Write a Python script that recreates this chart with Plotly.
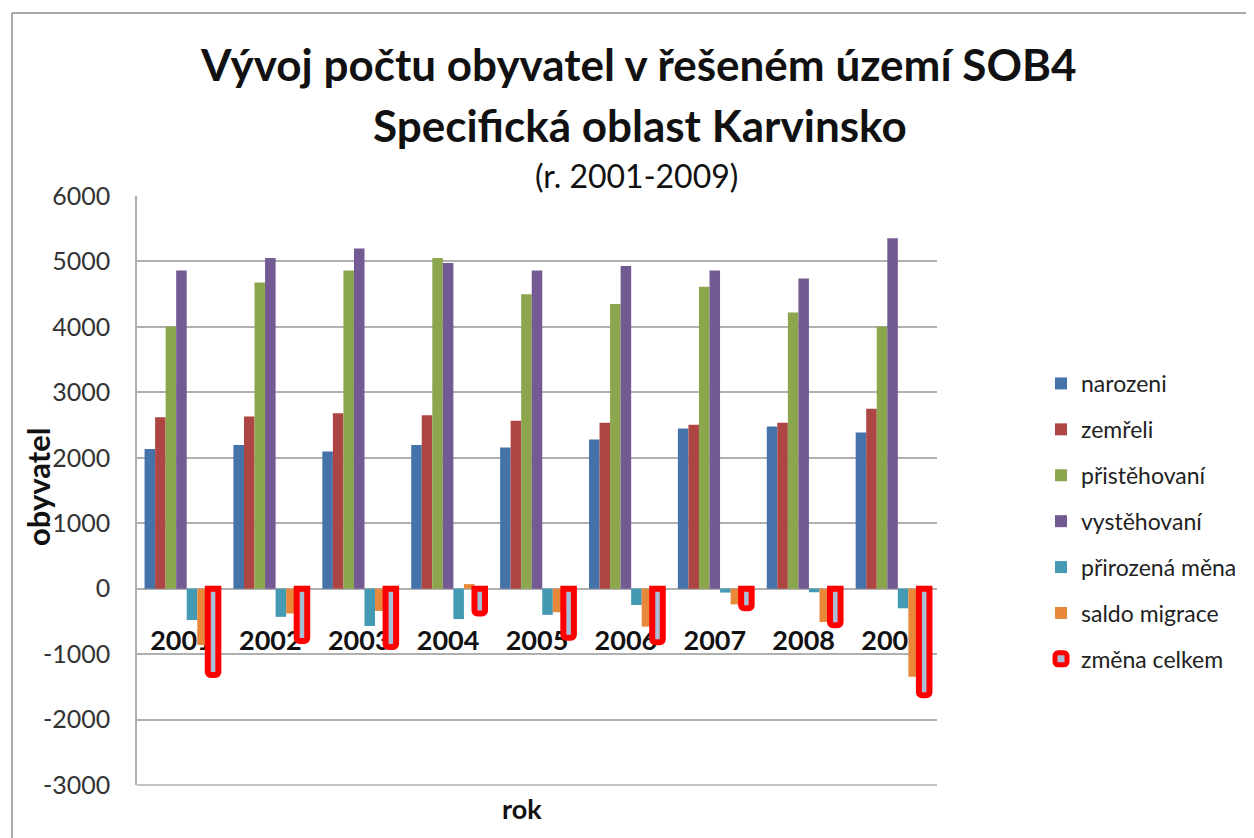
import plotly.graph_objects as go

years = ["2001", "2002", "2003", "2004", "2005", "2006", "2007", "2008", "2009"]
narozeni = [2133, 2194, 2097, 2194, 2158, 2280, 2447, 2478, 2386]
zemreli = [2621, 2631, 2682, 2651, 2565, 2534, 2504, 2534, 2748]
pristehovani = [4005, 4677, 4860, 5053, 4499, 4351, 4615, 4219, 4005]
vystehovani = [4860, 5053, 5196, 4977, 4860, 4931, 4860, 4738, 5354]
prirozena_mena = [-480, -430, -570, -465, -400, -250, -60, -55, -300]
saldo_migrace = [-860, -380, -340, 70, -360, -580, -240, -510, -1345]
zmena_celkem = [-1320, -800, -890, -380, -750, -820, -300, -560, -1630]

y_ticks = [6000, 5000, 4000, 3000, 2000, 1000, 0, -1000, -2000, -3000]
y_tick_labels = ["6000", "5000", "4000", "3000", "2000", "1000", "0", "-1000", "-2000", "-3000"]

series = [
    ("narozeni", narozeni, "#4672aa"),
    ("zemřeli", zemreli, "#ad4643"),
    ("přistěhovaní", pristehovani, "#8ba64d"),
    ("vystěhovaní", vystehovani, "#735a93"),
    ("přirozená měna", prirozena_mena, "#4499b3"),
    ("saldo migrace", saldo_migrace, "#e8883a"),
]

FONT = "Lato"
OFF = 8  # browser body margin
fig = go.Figure()
for i, (name, vals, col) in enumerate(series):
    fig.add_trace(go.Bar(x=years, y=vals, name=name, marker=dict(color=col, line=dict(width=0)),
                         legendgroup=str(i)))
fig.add_trace(go.Bar(x=years, y=zmena_celkem, name="změna celkem",
                     marker=dict(color="#a9bdd6", line=dict(color="#ff0000", width=6), cornerradius=3),
                     legendgroup="6"))

W, H = 1254 - OFF, 838 - OFF
# plot area in page pixels
L, R, T, B = 137, 937, 196, 785
pw, ph = R - L, B - T

def px(x):
    return (x - L) / pw

def py(y):
    return (B - y) / ph

fig.update_layout(
    width=W, height=H,
    margin=dict(l=L - OFF, r=W - (R - OFF), t=T - OFF, b=H - (B - OFF)),
    paper_bgcolor="white", plot_bgcolor="white",
    barmode="group", bargap=0.17, bargroupgap=0,
    font=dict(family=FONT, color="#1a1a1a"),
    showlegend=True,
    legend=dict(x=px(1041), y=py(362), xanchor="left", yanchor="top",
                font=dict(size=23, family=FONT, color="#222"),
                tracegroupgap=13, traceorder="grouped",
                bgcolor="rgba(0,0,0,0)"),
    xaxis=dict(anchor="free", position=1/3, showline=False, showgrid=False, ticks="",
               tickfont=dict(size=27, family=FONT, color="#111", weight="bold"),
               ticklabelstandoff=33, layer="below traces", zeroline=False),
    yaxis=dict(range=[-3000, 6000], tickvals=y_ticks, ticktext=y_tick_labels, showgrid=True,
               gridcolor="#b0b0b0", gridwidth=1.5, zeroline=True, zerolinecolor="#b0b0b0",
               zerolinewidth=1.5, showline=True, linecolor="#b0b0b0", linewidth=1.5,
               tickfont=dict(size=25, family=FONT, color="#333"), ticks="", ticklabelstandoff=20),
)

# bottom axis line of plot area
fig.add_shape(type="line", xref="paper", yref="paper", x0=0, x1=1, y0=0, y1=0,
              line=dict(color="#b0b0b0", width=1.5))
# outer chart border
fig.add_shape(type="line", xref="paper", yref="paper", x0=px(12), x1=px(1260), y0=py(13), y1=py(13),
              line=dict(color="#8c8c8c", width=1.5))
fig.add_shape(type="line", xref="paper", yref="paper", x0=px(12), x1=px(12), y0=py(13), y1=py(845),
              line=dict(color="#8c8c8c", width=1.5))

def ann(text, x, y, size, angle=0):
    fig.add_annotation(xref="paper", yref="paper", x=px(x), y=py(y), showarrow=False,
                       xanchor="center", yanchor="middle", text=text, textangle=angle,
                       font=dict(size=size, family=FONT, color="#111"))

ann("<b>Vývoj počtu obyvatel v řešeném území SOB4</b>", 638, 64, 44)
ann("<b>Specifická oblast Karvinsko</b>", 640, 125, 44)
ann("(r. 2001-2009)", 636, 176, 32)
ann("<b>rok</b>", 522, 808, 27)
ann("<b>obyvatel</b>", 38, 487, 31, angle=-90)

fig.write_html("out.html")
